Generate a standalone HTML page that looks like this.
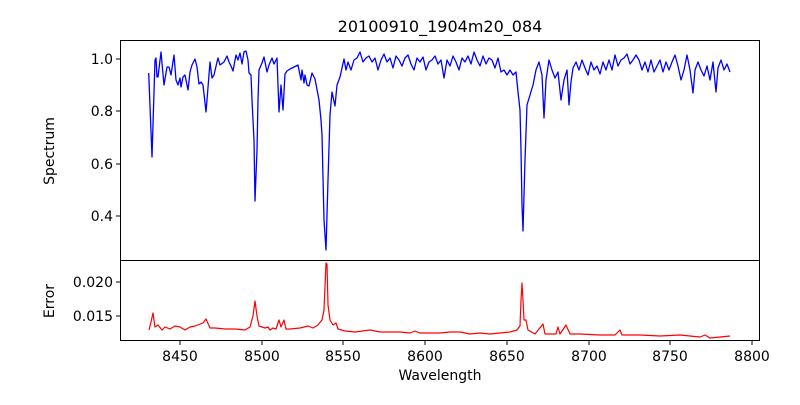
<!DOCTYPE html>
<html><head><style>
body{margin:0;background:#fff;}
svg{font-family:"DejaVu Sans","Liberation Sans",sans-serif;}
</style></head><body>
<svg width="800" height="400" xmlns="http://www.w3.org/2000/svg">
<rect width="800" height="400" fill="#fff"/>
<text x="440" y="32" font-size="16" text-anchor="middle" fill="#000">20100910_1904m20_084</text>
<polyline fill="none" stroke="#0000ff" stroke-width="1.3" stroke-linejoin="round" points="148.7,73 152,157 155,60 156,58 157,77 158,77 161,52 164,85 167,67 169,67 171,75 174,55 176,80 178,85 180,78 181,87 183,77 185,75 188,90 190,72 192,65 195,59 197,67 199,84 201,82 203,85 206,112 207,100 210,62 212,78 214,75 217,62 218,58 220,65 224,62 227,56 229,62 231,66 233,71 236,55 238,60 240,53 242,64 244,52 246,51 248,60 249,73 251,75 252,100 254,140 255,201 257,150 258,100 259,70 262,63 264,57 267,72 269,65 272,58 274,64 277,58 279,112 281,85 283,110 285,74 287,71 290,69 298,65 301,80 302,70 304,83 305,75 307,85 309,86 312,73 315,79 319,100 321,120 322,135 324,220 326,250 328,180 330,115 332,92 335,106 337,85 340,77 344,59 346,70 348,62 351,70 354,60 357,58 360,52 363,62 366,58 369,56 372,62 375,58 378,70 381,60 384,54 387,62 390,58 393,68 396,56 399,60 402,66 405,58 408,55 411,64 414,70 417,58 420,62 423,57 426,70 429,62 432,60 435,56 438,64 441,60 444,78 447,60 450,66 453,56 456,62 459,70 462,58 465,62 468,56 471,64 474,52 477,60 480,66 483,56 486,64 489,58 492,60 495,68 498,58 501,72 504,70 507,75 510,70 513,75 516,72 518,92 520,110 521,150 522,205 523,231 525,160 527,105 530,95 533,85 536,70 539,62 542,75 544,118 546,80 549,60 552,70 555,78 558,72 561,100 564,80 567,70 569,105 571,82 573,68 576,62 579,70 582,60 585,68 588,75 591,62 594,70 597,66 600,74 603,62 606,70 609,60 612,70 615,55 618,66 621,60 624,58 627,54 630,64 633,60 636,55 639,60 642,70 645,62 648,72 651,60 654,72 657,66 660,60 663,72 666,62 669,70 672,62 675,55 678,66 681,80 684,70 687,55 690,70 693,93 695,70 698,62 701,70 704,76 707,66 710,80 713,62 716,92 718,68 721,60 724,70 727,64 730,72"/>
<polyline fill="none" stroke="#ff0000" stroke-width="1.2" stroke-linejoin="round" points="149,330 151,322 153,313 155,327 158,325 162,330 165,327 170,329 175,326 180,327 185,330 190,327 195,326 203,323 206,319 210,328 215,328 225,329 235,329 245,330 250,327 253,316 255,301 257,316 259,326 265,328 268,327 270,330 273,328 276,329 279,320 281,327 284,320 286,329 290,329 300,328 308,326 313,328 318,325 322,320 324,310 326,263 327,264 328,305 330,320 333,325 336,323 338,329 345,331 355,332 370,330 380,332 400,332 410,333 415,331 420,333 440,333 450,332 460,332 470,334 480,333 490,334 500,333 510,332 517,330 520,326 521,300 522,283 523,300 524,320 526,320 528,330 535,334 543,324 545,334 556,334 558,327 560,334 566,325 570,334 580,334 600,335 615,335 620,330 622,335 640,335 660,336 680,335 690,336 700,337 705,335 710,338 720,337 730,336"/>
<rect x="120.5" y="40.5" width="639" height="220" fill="none" stroke="#000" stroke-width="1"/>
<rect x="120.5" y="260.5" width="639" height="80" fill="none" stroke="#000" stroke-width="1"/>
<g stroke="#000" stroke-width="1">
<line x1="116" y1="59" x2="120" y2="59"/><line x1="116" y1="111" x2="120" y2="111"/><line x1="116" y1="164" x2="120" y2="164"/><line x1="116" y1="216" x2="120" y2="216"/>
<line x1="116" y1="282" x2="120" y2="282"/><line x1="116" y1="316" x2="120" y2="316"/>
<line x1="180" y1="341" x2="180" y2="345"/><line x1="262" y1="341" x2="262" y2="345"/><line x1="343" y1="341" x2="343" y2="345"/><line x1="425" y1="341" x2="425" y2="345"/><line x1="507" y1="341" x2="507" y2="345"/><line x1="589" y1="341" x2="589" y2="345"/><line x1="670" y1="341" x2="670" y2="345"/><line x1="752" y1="341" x2="752" y2="345"/>
</g>
<g font-size="14" fill="#000" text-anchor="end">
<text x="113" y="64">1.0</text><text x="113" y="116">0.8</text><text x="113" y="169">0.6</text><text x="113" y="221">0.4</text>
<text x="113" y="287">0.020</text><text x="113" y="321">0.015</text>
</g>
<g font-size="14" fill="#000" text-anchor="middle">
<text x="180" y="361">8450</text><text x="262" y="361">8500</text><text x="343" y="361">8550</text><text x="425" y="361">8600</text><text x="507" y="361">8650</text><text x="589" y="361">8700</text><text x="670" y="361">8750</text><text x="752" y="361">8800</text>
<text x="440" y="380">Wavelength</text>
<text transform="translate(54,151) rotate(-90)">Spectrum</text>
<text transform="translate(54,301) rotate(-90)">Error</text>
</g>
</svg>
</body></html>
